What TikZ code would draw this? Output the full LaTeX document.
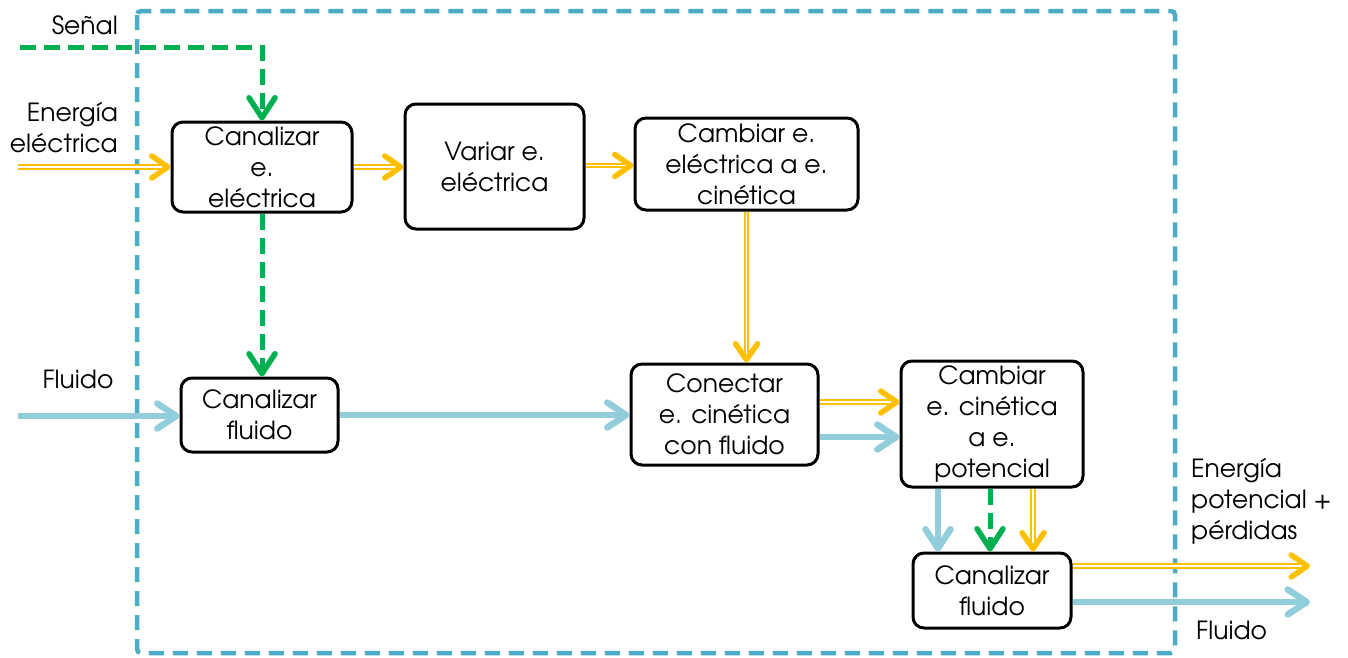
\documentclass[tikz,border=0pt]{standalone}
\usepackage{fontspec}
\setmainfont{TeX Gyre Adventor}
\usetikzlibrary{arrows.meta,calc,decorations.markings}
\definecolor{yel}{HTML}{FFC000}
\definecolor{grn}{HTML}{00B050}
\definecolor{blu}{HTML}{92CDDC}
\definecolor{frm}{HTML}{4BACC6}
\tikzset{
  box/.style={draw=black, line width=3pt, rounded corners=11pt, align=center, inner sep=0pt, fill=white},
  lbl/.style={inner sep=0pt},
  ytip/.style={postaction={decorate, decoration={markings, mark=at position 1 with {\arrow[yel, solid]{Straight Barb[length=16pt, width=22pt, line width=5.5pt, round]}}}}},
  yline/.style={draw=yel, double=white, double distance=1.5pt, line width=2.2pt, shorten >=3pt, ytip},
  bline/.style={draw=blu, line width=6pt, -{Straight Barb[length=19pt, width=25pt, line width=6.5pt, round]}},
  gline/.style={draw=grn, line width=5pt, dash pattern=on 16pt off 8pt, -{Straight Barb[length=20pt, width=26pt, line width=5.5pt, round]}},
}
\begin{document}
\begin{tikzpicture}[x=1pt, y=-1pt, font=\fontsize{25}{31}\selectfont]
\useasboundingbox (0,0) rectangle (1348,657);
% frame
\draw[frm, line width=4.5pt, dash pattern=on 15pt off 9pt, rounded corners=4pt] (137,11) rectangle (1175,653);

% boxes
\node[box, minimum width=180pt, minimum height=90pt] (b1) at (262,167) {Canalizar\\e.\\eléctrica};
\node[box, minimum width=179pt, minimum height=125pt] (b2) at (494.5,166.5) {Variar e.\\eléctrica};
\node[box, minimum width=223pt, minimum height=92pt] (b3) at (746.5,164) {Cambiar e.\\eléctrica a e.\\cinética};
\node[box, minimum width=157pt, minimum height=74pt] (b4) at (259.5,415) {Canalizar\\fluido};
\node[box, minimum width=187pt, minimum height=101pt] (b5) at (724.5,414.5) {Conectar\\e. cinética\\con fluido};
\node[box, minimum width=182pt, minimum height=126pt] (b6) at (992,424) {Cambiar\\e. cinética\\a e.\\potencial};
\node[box, minimum width=158pt, minimum height=75pt] (b7) at (992,590.5) {Canalizar\\fluido};

% labels
\node[lbl, anchor=east] (lSen) at (118,25) {Señal};
\node[lbl, anchor=east, align=right] (lEE) at (118,128) {Energía\\eléctrica};
\node[lbl] (lFl) at (78,379) {Fluido};
\node[lbl, anchor=west, align=left] (lEP) at (1191,501) {Energía\\potencial +\\pérdidas};
\node[lbl, anchor=west] (lFo) at (1196,630) {Fluido};

% free ends
\coordinate (sS) at (20,47);
\coordinate (eS) at (18,167);
\coordinate (fS) at (18,416);
\coordinate (yE) at (1310,566);
\coordinate (bE) at (1310,602);

% signal
\draw[gline] (sS) -| (b1.north);
\draw[gline] (b1.south) -- (b1.south |- b4.north);
% electric
\draw[yline] (eS) -- (eS -| b1.west);
\draw[yline] (b1.east) -- (b1.east -| b2.west);
\draw[yline] ($(b2.east)+(0,-1)$) coordinate (p23) -- (p23 -| b3.west);
\draw[yline] (b3.south) -- (b3.south |- b5.north);
% fluid
\draw[bline] (fS) -- (fS -| b4.west);
\draw[bline] (b4.east) -- (b4.east -| b5.west);
% b5 -> b6
\draw[yline] ($(b5.east)+(0,-12.5)$) coordinate (p56a) -- (p56a -| b6.west);
\draw[bline] ($(b5.east)+(0,22.5)$) coordinate (p56b) -- (p56b -| b6.west);
% b6 -> b7
\draw[bline] ($(b6.south)+(-54,0)$) coordinate (p67a) -- (p67a |- b7.north);
\draw[gline] ($(b6.south)+(-2,0)$) coordinate (p67b) -- (p67b |- b7.north);
\draw[yline] ($(b6.south)+(41,0)$) coordinate (p67c) -- (p67c |- b7.north);
% outputs
\draw[yline] (b7.east |- yE) -- (yE);
\draw[bline] (b7.east |- bE) -- (bE);
\end{tikzpicture}
\end{document}
